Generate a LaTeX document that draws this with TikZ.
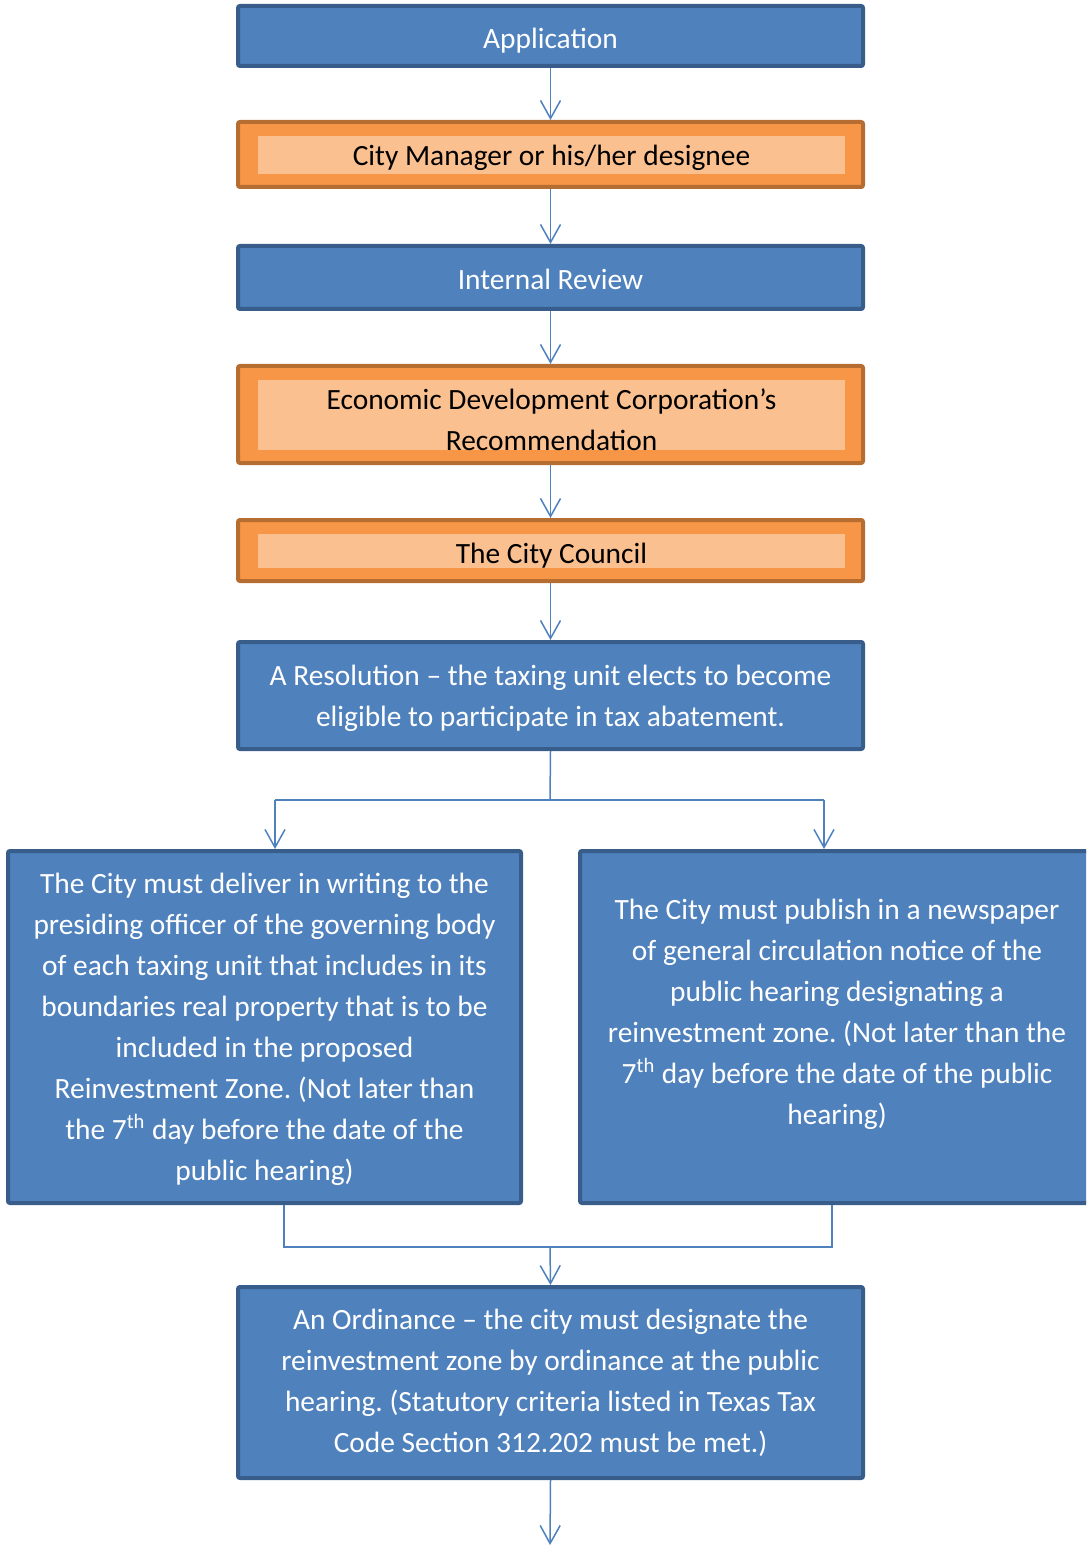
\documentclass[tikz,border=0pt]{standalone}
\usepackage{fontspec}
\setmainfont{Carlito}
\usetikzlibrary{arrows.meta}
\frenchspacing
\definecolor{bfill}{HTML}{4F81BD}
\definecolor{bline}{HTML}{385D8A}
\definecolor{ofill}{HTML}{F79646}
\definecolor{oline}{HTML}{B66D31}
\definecolor{oinner}{HTML}{FAC090}
\newcommand\dn[2]{\raisebox{-#1}[\height][\depth]{#2}}
\tikzset{
  bluebox/.style={draw=bline, fill=bfill, line width=2pt, rounded corners=1pt, text=white, align=center, inner sep=0pt, minimum width=312.5pt},
  orangebox/.style={draw=oline, fill=ofill, line width=2pt, rounded corners=1pt, inner sep=0pt, minimum width=312.5pt},
  innerbox/.style={fill=oinner, inner sep=0pt, align=center, text=black, minimum width=293.5pt},
  conn/.style={draw=bfill, line width=0.75pt},
  arr/.style={conn, -{Straight Barb[length=9pt,width=10pt,line width=0.75pt]}},
  every node/.style={font=\fontsize{14.7pt}{20.5pt}\selectfont}
}
\begin{document}
\begin{tikzpicture}[x=0.5pt,y=-0.5pt]
\useasboundingbox (0,0) rectangle (1086,1545);
\begin{scope}
\clip (0,0) rectangle (1086,1545);
\node[bluebox, minimum height=30pt] (app) at (550.5,36) {\dn{2.5pt}{Application}};
\node[orangebox, minimum height=32.5pt] (cm) at (550.5,154.5) {};
\node[innerbox, minimum height=19pt] (cmt) at (551.5,155) {\dn{1.5pt}{City Manager or his/her designee}};
\node[bluebox, minimum height=31.5pt] (ir) at (550.5,277.5) {\dn{1pt}{Internal Review}};
\node[orangebox, minimum height=48.5pt] (edc) at (550.5,414.5) {};
\node[innerbox, minimum height=35pt] (edct) at (551.5,415) {\dn{2.5pt}{Economic Development Corporation’s}\\\dn{2.5pt}{Recommendation}};
\node[orangebox, minimum height=30.5pt] (cc) at (550.5,550.5) {};
\node[innerbox, minimum height=17pt] (cct) at (551.5,551) {\dn{2.5pt}{The City Council}};
\node[bluebox, minimum height=53.5pt] (res) at (550.5,695.5) {\dn{1.5pt}{A Resolution – the taxing unit elects to become}\\\dn{1.5pt}{eligible to participate in tax abatement.}};
\node[bluebox, minimum width=256.5pt, minimum height=176pt] (left) at (264.5,1027) {\dn{1pt}{The City must deliver in writing to the}\\\dn{1pt}{presiding officer of the governing body}\\\dn{1pt}{of each taxing unit that includes in its}\\\dn{1pt}{boundaries real property that is to be}\\\dn{1pt}{included in the proposed}\\\dn{1pt}{Reinvestment Zone. (Not later than}\\\dn{1pt}{the 7\textsuperscript{th} day before the date of the}\\\dn{1pt}{public hearing)}};
\node[bluebox, minimum width=257pt, minimum height=176pt] (right) at (837,1027) {};
\node[text=white, align=center, inner sep=0pt] (rightt) at (837,1014) {The City must publish in a newspaper\\of general circulation notice of the\\public hearing designating a\\reinvestment zone. (Not later than the\\7\textsuperscript{th} day before the date of the public\\hearing)};
\node[bluebox, minimum height=95.5pt] (ord) at (550.5,1382.5) {An Ordinance – the city must designate the\\reinvestment zone by ordinance at the public\\hearing. (Statutory criteria listed in Texas Tax\\Code Section 312.202 must be met.)};
\end{scope}
\coordinate (split) at (550,800);
\coordinate (sl) at (275,800);
\coordinate (sr) at (824,800);
\coordinate (jl) at (284,1247);
\coordinate (jr) at (832,1247);
\coordinate (join) at (550,1247);
\coordinate (end) at (550,1545);
\draw[arr] (app.south) -- (cm.north);
\draw[arr] (cm.south) -- (ir.north);
\draw[arr] (ir.south) -- (edc.north);
\draw[arr] (edc.south) -- (cc.north);
\draw[arr] (cc.south) -- (res.north);
\draw[conn] (res.south) -- (split);
\draw[conn] (sl) -- (sr);
\draw[arr] (sl) -- (sl |- left.north);
\draw[arr] (sr) -- (sr |- right.north);
\draw[conn] (jl |- left.south) -- (jl) -- (jr) -- (jr |- right.south);
\draw[arr] (join) -- (ord.north);
\draw[arr] (ord.south) -- (end);
\end{tikzpicture}
\end{document}
